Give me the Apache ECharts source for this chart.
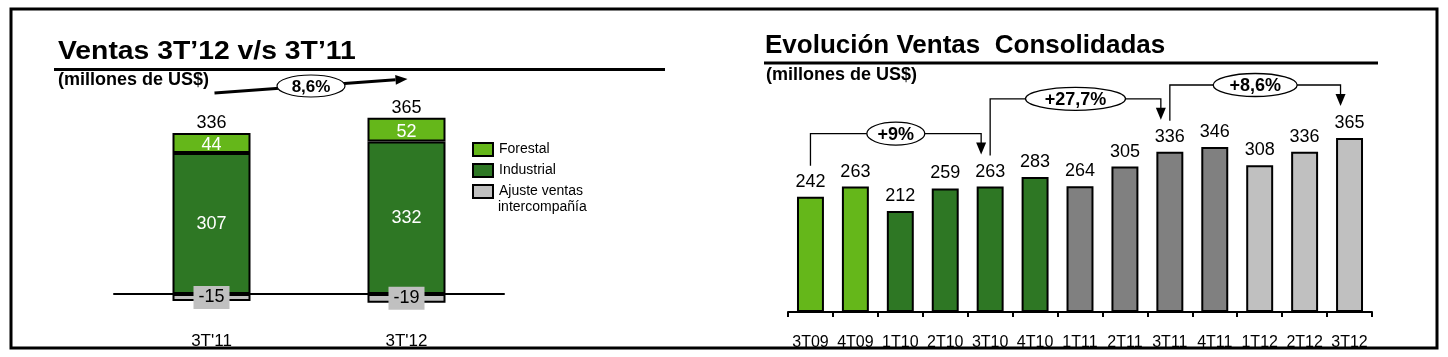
<!DOCTYPE html>
<html><head><meta charset="utf-8">
<script src="https://cdn.jsdelivr.net/npm/echarts@6/dist/echarts.min.js"></script>
<style>html,body{margin:0;padding:0;background:#fff}#c{width:1448px;height:357px}</style>
</head><body><div id="c"></div>
<script>
// ---- data ----
const leftCategories = ["3T'11", "3T'12"];
const forestal = [44, 52];
const industrial = [307, 332];
const ajuste = [-15, -19];
const leftTotals = [336, 365];
const leftGrowth = '8,6%';

const quarters = ['3T09','4T09','1T10','2T10','3T10','4T10','1T11','2T11','3T11','4T11','1T12','2T12','3T12'];
const ventas = [242, 263, 212, 259, 263, 283, 264, 305, 336, 346, 308, 336, 365];
const growthLabels = ['+9%', '+27,7%', '+8,6%'];
const growthFrom = ['3T09', '3T10', '3T11'];
const growthTo = ['3T10', '3T11', '3T12'];

// ---- styles ----
const FONT = '"Liberation Sans", Arial, sans-serif';
const LIME = '#65B71A', DKGREEN = '#2E7724', GRAY = '#808080', LTGRAY = '#C0C0C0';
const barColors = [LIME, LIME, DKGREEN, DKGREEN, DKGREEN, DKGREEN, GRAY, GRAY, GRAY, GRAY, LTGRAY, LTGRAY, LTGRAY];
const ellipseRx = [29, 50, 42];

const chart = echarts.init(document.getElementById('c'), null, {renderer: 'canvas'});

chart.setOption({
  animation: false,
  textStyle: {fontFamily: FONT},
  grid: [
    {left: 114, right: 944, top: 110.4, bottom: 40.05, containLabel: false, outerBoundsMode: 'none'},
    {left: 788, right: 76, top: 121.3, bottom: 45, containLabel: false, outerBoundsMode: 'none'}
  ],
  xAxis: [
    {gridIndex: 0, type: 'category', data: leftCategories,
     axisLine: {onZero: true, lineStyle: {color: '#000', width: 2}},
     axisTick: {show: false},
     axisLabel: {color: '#000', fontSize: 17, margin: 16, fontFamily: FONT, interval: 0}},
    {gridIndex: 1, type: 'category', data: quarters,
     axisLine: {lineStyle: {color: '#000', width: 2}},
     axisTick: {show: true, interval: 0, length: 5, lineStyle: {color: '#000', width: 2}},
     axisLabel: {color: '#000', fontSize: 16, margin: 23, fontFamily: FONT, interval: 0, hideOverlap: false}}
  ],
  yAxis: [
    {gridIndex: 0, type: 'value', min: -50, max: 400, show: false, splitLine: {show: false}},
    {gridIndex: 1, type: 'value', min: 0, max: 400, show: false, splitLine: {show: false}}
  ],
  legend: {
    orient: 'vertical', left: 467, top: 137, itemWidth: 20, itemHeight: 13, itemGap: 6,
    icon: 'rect', selectedMode: false,
    data: ['Forestal', 'Industrial', 'Ajuste ventas'],
    textStyle: {fontSize: 14, color: '#000', fontFamily: FONT, padding: [0, 0, 0, 1]}
  },
  series: [
    {name: 'Industrial', type: 'bar', xAxisIndex: 0, yAxisIndex: 0, stack: 'v', barWidth: '40%',
     data: industrial,
     itemStyle: {color: DKGREEN, borderColor: '#000', borderWidth: 2},
     label: {show: true, position: 'inside', color: '#fff', fontSize: 18, fontFamily: FONT}},
    {name: 'Forestal', type: 'bar', xAxisIndex: 0, yAxisIndex: 0, stack: 'v', barWidth: '40%',
     data: forestal,
     itemStyle: {color: LIME, borderColor: '#000', borderWidth: 2},
     label: {show: true, position: 'inside', offset: [0, 2], color: '#fff', fontSize: 18, fontFamily: FONT}},
    {name: 'Ajuste ventas', type: 'bar', xAxisIndex: 0, yAxisIndex: 0, stack: 'v', barWidth: '40%',
     data: ajuste,
     itemStyle: {color: LTGRAY, borderColor: '#000', borderWidth: 2},
     label: {show: true, position: 'inside', color: '#000', fontSize: 18, fontFamily: FONT,
             backgroundColor: LTGRAY, padding: [3, 5, 2, 5]}},
    {name: 'Total', type: 'scatter', xAxisIndex: 0, yAxisIndex: 0, symbolSize: 0,
     itemStyle: {opacity: 1},
     data: forestal.map((f, i) => f + industrial[i]),
     label: {show: true, position: 'top', distance: 1, color: '#000', opacity: 1, fontSize: 18, fontFamily: FONT,
             formatter: p => String(leftTotals[p.dataIndex])}},
    {name: 'Ventas', type: 'bar', xAxisIndex: 1, yAxisIndex: 1, barWidth: '60%',
     data: ventas.map((v, i) => ({value: v, itemStyle: {color: barColors[i]}})),
     itemStyle: {borderColor: '#000', borderWidth: 2},
     label: {show: true, position: 'top', distance: 6, color: '#000', fontSize: 18, fontFamily: FONT}}
  ]
});

// ---- annotations built from axes ----
const g = [];
// frame
g.push({type: 'rect', shape: {x: 11, y: 9, width: 1426, height: 339}, style: {fill: null, stroke: '#000', lineWidth: 3}, z: 100});
// titles
g.push({type: 'text', x: 58, y: 52, scaleX: 1.09, style: {text: 'Ventas 3T\u201912 v/s 3T\u201911', fill: '#000', font: 'bold 26px ' + FONT, verticalAlign: 'middle'}});
g.push({type: 'line', shape: {x1: 54, y1: 69.5, x2: 665, y2: 69.5}, style: {stroke: '#000', lineWidth: 3}});
g.push({type: 'text', x: 58, y: 80, style: {text: '(millones de US$)', fill: '#000', font: 'bold 18px ' + FONT, verticalAlign: 'middle'}});
g.push({type: 'text', x: 765, y: 46, style: {text: 'Evoluci\u00f3n Ventas  Consolidadas', fill: '#000', font: 'bold 26px ' + FONT, verticalAlign: 'middle'}});
g.push({type: 'line', shape: {x1: 764, y1: 63, x2: 1378, y2: 63}, style: {stroke: '#000', lineWidth: 3}});
g.push({type: 'text', x: 766, y: 75, style: {text: '(millones de US$)', fill: '#000', font: 'bold 18px ' + FONT, verticalAlign: 'middle'}});
// legend second line
g.push({type: 'text', x: 498, y: 207, style: {text: 'intercompa\u00f1\u00eda', fill: '#000', font: '14px ' + FONT, verticalAlign: 'middle'}});

// left growth arrow
const lx0 = chart.convertToPixel({xAxisIndex: 0}, leftCategories[0]) + 3;
const lx1 = chart.convertToPixel({xAxisIndex: 0}, leftCategories[1]) + 1;
const ly0 = 93, ly1 = 79;
const dx = lx1 - lx0, dy = ly1 - ly0, len = Math.hypot(dx, dy), ux = dx / len, uy = dy / len;
const headL = 12, headW = 5;
const bx = lx1 - ux * headL, by = ly1 - uy * headL;
g.push({type: 'line', shape: {x1: lx0, y1: ly0, x2: bx, y2: by}, style: {stroke: '#000', lineWidth: 3}});
g.push({type: 'polygon', shape: {points: [[lx1, ly1], [bx - uy * headW, by + ux * headW], [bx + uy * headW, by - ux * headW]]}, style: {fill: '#000'}});
const lmx = (lx0 + lx1) / 2, lmy = (ly0 + ly1) / 2;
g.push({type: 'ellipse', shape: {cx: lmx, cy: lmy, rx: 34, ry: 11}, style: {fill: '#fff', stroke: '#000', lineWidth: 1.2}});
g.push({type: 'text', x: lmx, y: lmy + 1, style: {text: leftGrowth, fill: '#000', font: 'bold 17px ' + FONT, align: 'center', verticalAlign: 'middle'}});

// right growth brackets
growthLabels.forEach((lab, k) => {
  const iFrom = quarters.indexOf(growthFrom[k]);
  const iTo = quarters.indexOf(growthTo[k]);
  const x0 = chart.convertToPixel({xAxisIndex: 1}, growthFrom[k]);
  const x1 = chart.convertToPixel({xAxisIndex: 1}, growthTo[k]) - 9;
  const y0 = chart.convertToPixel({yAxisIndex: 1}, ventas[iFrom]) - 31;
  const tip = chart.convertToPixel({yAxisIndex: 1}, ventas[iTo]) - 32;
  const yh = tip - 21;
  g.push({type: 'polyline', shape: {points: [[x0, y0], [x0, yh], [x1, yh], [x1, tip - 10]]}, style: {stroke: '#000', lineWidth: 1.3, fill: null}});
  g.push({type: 'polygon', shape: {points: [[x1, tip], [x1 - 5, tip - 12], [x1 + 5, tip - 12]]}, style: {fill: '#000'}});
  const mx = (x0 + x1) / 2;
  g.push({type: 'ellipse', shape: {cx: mx, cy: yh, rx: ellipseRx[k], ry: 11.5}, style: {fill: '#fff', stroke: '#000', lineWidth: 1.3}});
  g.push({type: 'text', x: mx, y: yh + 1, style: {text: lab, fill: '#000', font: 'bold 18px ' + FONT, align: 'center', verticalAlign: 'middle'}});
});

chart.setOption({graphic: g});
</script>
</body></html>
